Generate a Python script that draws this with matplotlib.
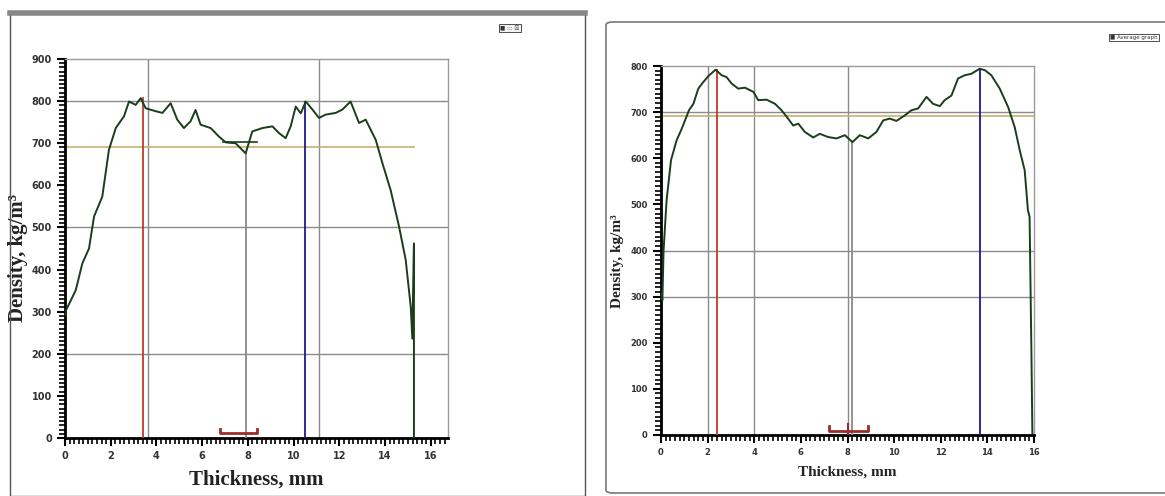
import matplotlib.pyplot as plt
import matplotlib.patches as mpatches
from matplotlib.ticker import MultipleLocator

# LEFT PANEL DATA (thickness mm, density kg/m3)
left_x = [0.0, 0.05, 0.47, 0.76, 1.05, 1.27, 1.63, 1.92, 2.22, 2.58, 2.80, 3.09,
          3.31, 3.53, 3.97, 4.26, 4.62, 4.91, 5.20, 5.49, 5.71, 5.93, 6.37,
          6.73, 7.03, 7.46, 7.90, 8.19, 8.63, 9.07, 9.36, 9.65, 9.87, 10.09,
          10.31, 10.53, 10.82, 11.11, 11.40, 11.84, 12.13, 12.49, 12.86, 13.15,
          13.59, 13.88, 14.24, 14.61, 14.90, 15.12, 15.19, 15.26, 15.26]
left_y = [290, 304, 351, 415, 450, 526, 573, 684, 736, 764, 799, 791,
          807, 783, 776, 772, 795, 756, 736, 752, 779, 744, 736,
          716, 702, 700, 676, 728, 736, 740, 724, 712, 740, 787,
          771, 799, 780, 760, 768, 772, 780, 799, 748, 756,
          708, 653, 589, 502, 423, 312, 236, 462, 0]
left_markers = [3.4, 7.9, 10.5]
left_marker_tops = [807, 676, 799]
left_mean = 690
left_bracket = [6.8, 8.4]
left_vgrid = [3.65, 11.1]
left_hgrid = [200, 500, 800]
left_min_seg = [6.9, 8.4, 702]

# RIGHT PANEL DATA
right_x = [0.0, 0.06, 0.11, 0.24, 0.43, 0.67, 0.89, 1.03, 1.2, 1.39, 1.6, 1.81,
           2.03, 2.34, 2.6, 2.81, 3.03, 3.31, 3.6, 3.96, 4.17, 4.53, 4.89,
           5.17, 5.39, 5.67, 5.89, 6.17, 6.53, 6.81, 7.17, 7.53, 7.89, 8.21,
           8.53, 8.89, 9.24, 9.53, 9.81, 10.1, 10.46, 10.74, 11.03, 11.39,
           11.67, 11.96, 12.17, 12.46, 12.74, 13.03, 13.31, 13.67, 13.89,
           14.17, 14.53, 14.89, 15.17, 15.39, 15.6, 15.74, 15.81, 15.89, 15.93]
right_y = [310, 292, 400, 509, 596, 639, 664, 682, 704, 718, 751, 765,
           778, 792, 780, 776, 762, 751, 753, 744, 726, 727, 718,
           704, 690, 671, 675, 657, 645, 653, 646, 643, 650, 635,
           650, 643, 657, 682, 686, 681, 693, 704, 708, 733,
           718, 713, 726, 736, 773, 780, 783, 794, 791,
           780, 751, 711, 668, 617, 574, 487, 473, 177, 4]
right_markers = [2.39, 8.21, 13.67]
right_marker_tops = [792, 635, 794]
right_mean = 691
right_bracket = [7.21, 8.86]
right_vgrid = [2, 4, 8]
right_hgrid = [300, 400, 700]


def draw_panel(ax, xs, ys, markers, tops, mean, mean_end, bracket, vgrid, hgrid,
               xmax, ymax, tick_fs, label_fs, ylabel_pos):
    ax.set_xlim(0, xmax)
    ax.set_ylim(0, ymax)

    # GRID
    for gx in vgrid:
        ax.axvline(gx, color="#8a8a8a", linewidth=1, zorder=1)
    for gy in hgrid:
        ax.axhline(gy, color="#8a8a8a", linewidth=1, zorder=1)

    # MEAN LINE
    ax.plot([0, mean_end], [mean, mean], color="#c8b070", linewidth=1.2, zorder=2)

    # MARKER LINES
    colors = ["#c0392b", "#8a8a8a", "#1a1a8c"]
    for mx, top, c in zip(markers, tops, colors):
        ax.plot([mx, mx], [0, top], color=c, linewidth=1.3, zorder=3)

    # BRACKET
    b0, b1 = bracket
    h = ymax * 0.012
    ax.plot([b0, b0, b1, b1], [h * 2, h, h, h * 2], color="#9b2b2b",
            linewidth=2, zorder=4)

    # PROFILE
    ax.plot(xs, ys, color="#1b3d1b", linewidth=1.4, zorder=5)

    # SPINES
    for s in ["top", "right"]:
        ax.spines[s].set_color("#9a9a9a")
        ax.spines[s].set_linewidth(1)
    for s in ["left", "bottom"]:
        ax.spines[s].set_color("black")
        ax.spines[s].set_linewidth(2)

    # TICKS
    ax.set_xticks(range(0, 17, 2))
    ax.xaxis.set_minor_locator(MultipleLocator(0.2))
    ax.yaxis.set_major_locator(MultipleLocator(100))
    ax.yaxis.set_minor_locator(MultipleLocator(10))
    ax.tick_params(axis="both", which="major", length=6, width=1.5,
                   labelsize=tick_fs, colors="black")
    ax.tick_params(axis="both", which="minor", length=4, width=1.2)
    for lbl in ax.get_xticklabels() + ax.get_yticklabels():
        lbl.set_fontweight("bold")
        lbl.set_color("#333333")

    # LABELS
    ax.set_xlabel("Thickness, mm", fontsize=label_fs, family="Liberation Serif",
                  fontweight="bold", color="#222222", labelpad=6)
    ax.set_ylabel("Density, kg/m³", fontsize=label_fs, family="Liberation Serif",
                  fontweight="bold", color="#222222")
    ax.yaxis.set_label_coords(*ylabel_pos)


fig = plt.figure(figsize=(11.65, 4.96), dpi=100)
fig.patch.set_facecolor("white")

# WINDOW FRAMES
fig.add_artist(mpatches.Rectangle((10 / 1165, 0), 575 / 1165, 483 / 496,
                                  transform=fig.transFigure, fill=False,
                                  edgecolor="#555555", linewidth=1))
fig.add_artist(plt.Line2D([10 / 1165, 585 / 1165], [483 / 496, 483 / 496],
                          transform=fig.transFigure, color="#888888",
                          linewidth=4))
fig.add_artist(mpatches.FancyBboxPatch((606 / 1165, 3 / 496), 570 / 1165, 471 / 496,
                                       boxstyle="round,pad=0,rounding_size=0.006",
                                       transform=fig.transFigure, fill=False,
                                       edgecolor="#777777", linewidth=1.2))

# LEGEND BOXES
fig.text(500 / 1165, 466 / 496, "\u25a0 ::: \u2612", fontsize=4, color="#333333",
         bbox=dict(facecolor="#f4f4f4", edgecolor="#333333", linewidth=0.6, pad=1))
fig.text(1110 / 1165, 457 / 496, "\u25a0 Average graph", fontsize=4,
         color="#333333",
         bbox=dict(facecolor="white", edgecolor="#333333", linewidth=0.6, pad=1))

ax1 = fig.add_axes([65 / 1165, 58 / 496, 383 / 1165, 379 / 496])
draw_panel(ax1, left_x, left_y, left_markers, left_marker_tops, left_mean,
           left_x[-1], left_bracket, left_vgrid, left_hgrid, 16.75, 900, 7, 15,
           (-0.097, 0.475))
# short minimum segment near the centre
ax1.plot(left_min_seg[:2], [left_min_seg[2]] * 2, color="#1b3d1b",
         linewidth=1.2, zorder=5)

ax2 = fig.add_axes([661 / 1165, 61 / 496, 373 / 1165, 369 / 496])
draw_panel(ax2, right_x, right_y, right_markers, right_marker_tops, right_mean,
           16, right_bracket, right_vgrid, right_hgrid, 16, 800, 6, 11,
           (-0.099, 0.47))
# centre tick of the bracket
ax2.plot([8, 8], [0, 800 * 0.03], color="#9b2b2b", linewidth=1.5, zorder=4)

fig.savefig("out.png", dpi=100, facecolor=fig.get_facecolor())
